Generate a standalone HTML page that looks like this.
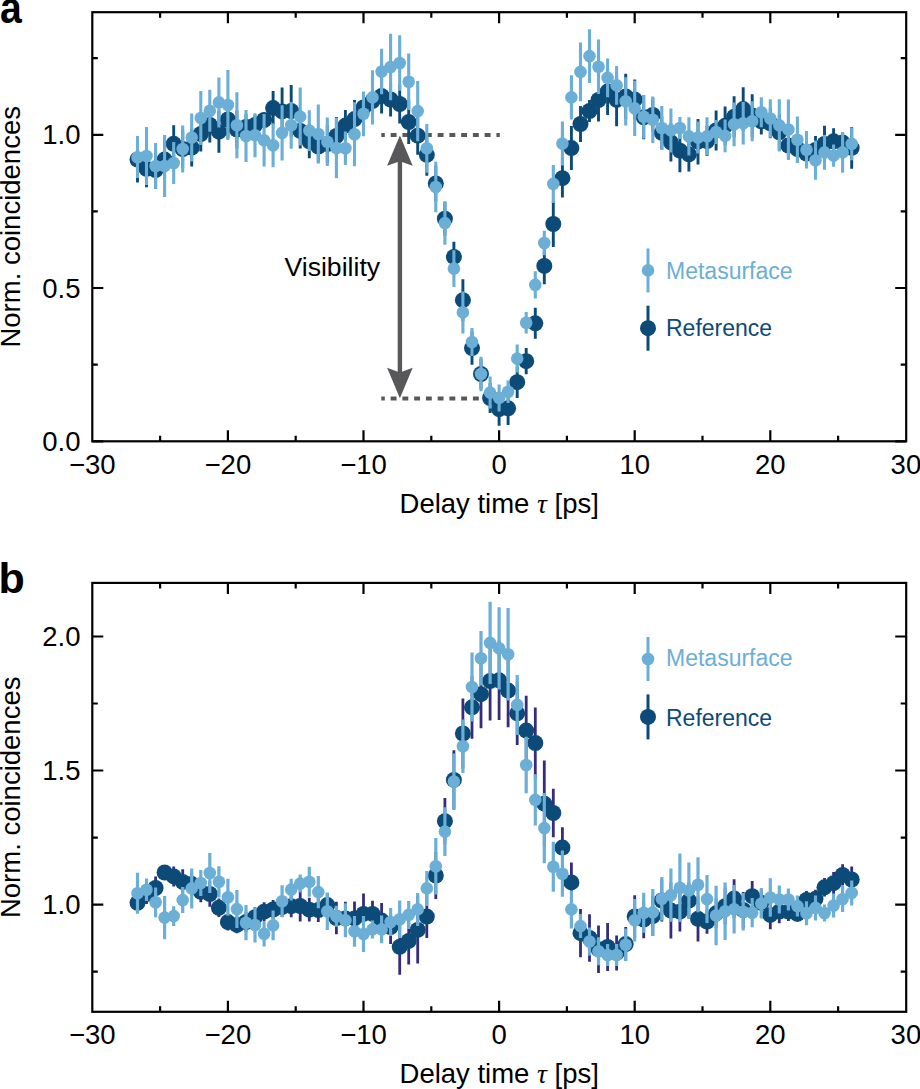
<!DOCTYPE html>
<html><head><meta charset="utf-8"><style>
html,body{margin:0;padding:0;background:#fff;}
svg{display:block;}
</style></head><body>
<svg width="920" height="1089" viewBox="0 0 920 1089">
<text transform="translate(0 23.2) scale(0.9 1)" x="0" y="0" font-family="Liberation Sans, sans-serif" font-weight="bold" font-size="43.5">a</text>
<text x="-1.6" y="593.4" font-family="Liberation Sans, sans-serif" font-weight="bold" font-size="43">b</text>
<rect x="92.3" y="12.2" width="813.9" height="429.1" fill="none" stroke="#000" stroke-width="2.2"/>
<path d="M160.1 441.3v-5.5M160.1 12.2v5.5M227.9 441.3v-11M227.9 12.2v11M295.7 441.3v-5.5M295.7 12.2v5.5M363.5 441.3v-11M363.5 12.2v11M431.3 441.3v-5.5M431.3 12.2v5.5M499.1 441.3v-11M499.1 12.2v11M566.9 441.3v-5.5M566.9 12.2v5.5M634.7 441.3v-11M634.7 12.2v11M702.5 441.3v-5.5M702.5 12.2v5.5M770.3 441.3v-11M770.3 12.2v11M838.1 441.3v-5.5M838.1 12.2v5.5M92.3 441.3h11M906.2 441.3h-11M92.3 288.0h11M906.2 288.0h-11M92.3 134.8h11M906.2 134.8h-11M92.3 364.7h5.5M906.2 364.7h-5.5M92.3 211.4h5.5M906.2 211.4h-5.5M92.3 58.2h5.5M906.2 58.2h-5.5" stroke="#000" stroke-width="2.2" fill="none"/>
<text x="92.3" y="473.7" text-anchor="middle" font-family="Liberation Sans, sans-serif" font-size="27.5">−30</text>
<text x="227.9" y="473.7" text-anchor="middle" font-family="Liberation Sans, sans-serif" font-size="27.5">−20</text>
<text x="363.5" y="473.7" text-anchor="middle" font-family="Liberation Sans, sans-serif" font-size="27.5">−10</text>
<text x="499.1" y="473.7" text-anchor="middle" font-family="Liberation Sans, sans-serif" font-size="27.5">0</text>
<text x="634.7" y="473.7" text-anchor="middle" font-family="Liberation Sans, sans-serif" font-size="27.5">10</text>
<text x="770.3" y="473.7" text-anchor="middle" font-family="Liberation Sans, sans-serif" font-size="27.5">20</text>
<text x="905.9" y="473.7" text-anchor="middle" font-family="Liberation Sans, sans-serif" font-size="27.5">30</text>
<text x="80.5" y="450.9" text-anchor="end" font-family="Liberation Sans, sans-serif" font-size="27.5">0.0</text>
<text x="80.5" y="297.6" text-anchor="end" font-family="Liberation Sans, sans-serif" font-size="27.5">0.5</text>
<text x="80.5" y="144.4" text-anchor="end" font-family="Liberation Sans, sans-serif" font-size="27.5">1.0</text>
<text transform="translate(19.8 226.8) rotate(-90)" text-anchor="middle" font-family="Liberation Sans, sans-serif" font-size="27.5">Norm. coincidences</text>
<text x="499.2" y="512.7" text-anchor="middle" font-family="Liberation Sans, sans-serif" font-size="27.5">Delay time <tspan font-family="Liberation Serif, serif" font-style="italic">τ</tspan> [ps]</text>
<path d="M381.3 135H499.8M381.3 398.5H490" stroke="#58585a" stroke-width="4" stroke-dasharray="5.9 5.85" stroke-dashoffset="2.4" fill="none"/>
<path d="M399.9 160V374" stroke="#58585a" stroke-width="4.4"/>
<path d="M399.9 135.4L412.7 165.8L399.9 161.2L387.1 165.8Z" fill="#58585a"/>
<path d="M399.9 398.2L412.7 367.8L399.9 372.4L387.1 367.8Z" fill="#58585a"/>
<text x="284.5" y="275.6" font-family="Liberation Sans, sans-serif" font-size="26.6">Visibility</text>
<path d="M137.5 136.5V182.5M146.5 150.3V187.3M155.6 151.0V189.0M164.6 140.6V178.6M173.7 125.3V162.3M182.7 130.0V168.0M191.7 128.6V166.6M200.8 116.5V151.5M209.8 107.5V142.5M218.9 110.7V152.7M227.9 100.5V138.5M236.9 110.5V148.5M246.0 114.0V140.0M255.0 115.0V135.0M264.1 113.0V127.0M273.1 91.1V125.1M282.1 87.6V135.2M291.2 85.0V137.0M300.2 113.3V148.5M309.3 124.3V158.3M318.3 130.5V162.5M327.3 125.0V163.0M336.4 117.0V155.0M345.4 110.0V141.2M354.5 100.1V138.1M363.5 92.4V122.4M372.5 82.0V120.0M381.6 78.4V113.6M390.6 82.5V116.5M399.7 84.5V123.5M408.7 100.1V144.1M417.7 116.7V154.7M426.8 133.8V175.8M435.8 165.4V201.4M444.9 201.7V235.7M453.9 241.7V272.1M462.9 279.2V321.2M472.0 331.5V364.7M481.0 359.0V389.0M490.1 383.0V413.0M499.1 392.6V425.8M508.1 391.7V424.9M517.2 366.5V397.9M526.2 348.1V374.3M535.3 307.8V338.8M544.3 247.6V284.2M553.3 201.1V246.9M562.4 158.8V197.6M571.4 126.1V170.1M580.5 106.1V141.9M589.5 100.0V122.0M598.5 78.5V121.5M607.6 68.2V115.0M616.6 73.5V126.3M625.7 73.7V119.1M634.7 79.6V119.6M643.7 95.3V139.3M652.8 98.4V131.4M661.8 116.3V149.3M670.9 123.2V161.4M679.9 129.2V172.2M688.9 137.0V171.6M698.0 119.0V164.4M707.0 126.1V156.1M716.1 110.4V150.4M725.1 106.4V145.2M734.1 96.2V137.4M743.2 87.2V131.0M752.2 94.3V136.9M761.3 108.0V134.6M770.3 108.3V138.3M779.3 114.3V150.3M788.4 131.5V159.5M797.4 135.0V163.0M806.5 139.5V167.5M815.5 136.0V164.0M824.5 125.7V162.1M833.6 128.3V154.3M842.6 132.6V152.6M851.7 126.9V168.7" stroke="#0c4a78" stroke-width="2.9" fill="none"/>
<g fill="#0c4a78"><circle cx="137.5" cy="159.5" r="8"/><circle cx="146.5" cy="168.8" r="8"/><circle cx="155.6" cy="170.0" r="8"/><circle cx="164.6" cy="159.6" r="8"/><circle cx="173.7" cy="143.8" r="8"/><circle cx="182.7" cy="149.0" r="8"/><circle cx="191.7" cy="147.6" r="8"/><circle cx="200.8" cy="134.0" r="8"/><circle cx="209.8" cy="125.0" r="8"/><circle cx="218.9" cy="131.7" r="8"/><circle cx="227.9" cy="119.5" r="8"/><circle cx="236.9" cy="129.5" r="8"/><circle cx="246.0" cy="127.0" r="8"/><circle cx="255.0" cy="125.0" r="8"/><circle cx="264.1" cy="120.0" r="8"/><circle cx="273.1" cy="108.1" r="8"/><circle cx="282.1" cy="111.4" r="8"/><circle cx="291.2" cy="111.0" r="8"/><circle cx="300.2" cy="130.9" r="8"/><circle cx="309.3" cy="141.3" r="8"/><circle cx="318.3" cy="146.5" r="8"/><circle cx="327.3" cy="144.0" r="8"/><circle cx="336.4" cy="136.0" r="8"/><circle cx="345.4" cy="125.6" r="8"/><circle cx="354.5" cy="119.1" r="8"/><circle cx="363.5" cy="107.4" r="8"/><circle cx="372.5" cy="101.0" r="8"/><circle cx="381.6" cy="96.0" r="8"/><circle cx="390.6" cy="99.5" r="8"/><circle cx="399.7" cy="104.0" r="8"/><circle cx="408.7" cy="122.1" r="8"/><circle cx="417.7" cy="135.7" r="8"/><circle cx="426.8" cy="154.8" r="8"/><circle cx="435.8" cy="183.4" r="8"/><circle cx="444.9" cy="218.7" r="8"/><circle cx="453.9" cy="256.9" r="8"/><circle cx="462.9" cy="300.2" r="8"/><circle cx="472.0" cy="348.1" r="8"/><circle cx="481.0" cy="374.0" r="8"/><circle cx="490.1" cy="398.0" r="8"/><circle cx="499.1" cy="409.2" r="8"/><circle cx="508.1" cy="408.3" r="8"/><circle cx="517.2" cy="382.2" r="8"/><circle cx="526.2" cy="361.2" r="8"/><circle cx="535.3" cy="323.3" r="8"/><circle cx="544.3" cy="265.9" r="8"/><circle cx="553.3" cy="224.0" r="8"/><circle cx="562.4" cy="178.2" r="8"/><circle cx="571.4" cy="148.1" r="8"/><circle cx="580.5" cy="124.0" r="8"/><circle cx="589.5" cy="111.0" r="8"/><circle cx="598.5" cy="100.0" r="8"/><circle cx="607.6" cy="91.6" r="8"/><circle cx="616.6" cy="99.9" r="8"/><circle cx="625.7" cy="96.4" r="8"/><circle cx="634.7" cy="99.6" r="8"/><circle cx="643.7" cy="117.3" r="8"/><circle cx="652.8" cy="114.9" r="8"/><circle cx="661.8" cy="132.8" r="8"/><circle cx="670.9" cy="142.3" r="8"/><circle cx="679.9" cy="150.7" r="8"/><circle cx="688.9" cy="154.3" r="8"/><circle cx="698.0" cy="141.7" r="8"/><circle cx="707.0" cy="141.1" r="8"/><circle cx="716.1" cy="130.4" r="8"/><circle cx="725.1" cy="125.8" r="8"/><circle cx="734.1" cy="116.8" r="8"/><circle cx="743.2" cy="109.1" r="8"/><circle cx="752.2" cy="115.6" r="8"/><circle cx="761.3" cy="121.3" r="8"/><circle cx="770.3" cy="123.3" r="8"/><circle cx="779.3" cy="132.3" r="8"/><circle cx="788.4" cy="145.5" r="8"/><circle cx="797.4" cy="149.0" r="8"/><circle cx="806.5" cy="153.5" r="8"/><circle cx="815.5" cy="150.0" r="8"/><circle cx="824.5" cy="143.9" r="8"/><circle cx="833.6" cy="141.3" r="8"/><circle cx="842.6" cy="142.6" r="8"/><circle cx="851.7" cy="147.8" r="8"/></g>
<path d="M137.5 136.8V178.0M146.5 127.0V185.0M155.6 143.0V189.0M164.6 135.0V197.0M173.7 142.0V184.0M182.7 125.4V172.6M191.7 113.5V161.5M200.8 91.0V145.0M209.8 89.7V131.7M218.9 77.4V127.4M227.9 70.0V140.0M236.9 92.2V158.2M246.0 110.0V162.0M255.0 113.2V157.2M264.1 114.1V166.5M273.1 123.3V167.3M282.1 105.2V160.6M291.2 101.9V148.7M300.2 87.6V145.6M309.3 110.3V150.9M318.3 104.5V163.5M327.3 117.6V166.0M336.4 117.8V178.2M345.4 131.4V165.0M354.5 102.2V166.2M363.5 91.4V136.2M372.5 70.2V124.6M381.6 48.7V94.3M390.6 33.7V100.3M399.7 35.3V90.7M408.7 53.6V110.0M417.7 80.9V141.3M426.8 123.9V172.7M435.8 161.7V212.3M444.9 201.4V244.8M453.9 250.3V286.9M462.9 291.4V333.4M472.0 328.0V356.0M481.0 356.7V391.3M490.1 376.6V408.6M499.1 384.4V411.4M508.1 380.5V403.1M517.2 344.6V372.6M526.2 312.1V333.5M535.3 271.2V298.6M544.3 230.8V255.2M553.3 164.9V202.9M562.4 121.6V165.6M571.4 75.2V119.6M580.5 42.6V101.2M589.5 29.2V83.0M598.5 39.5V94.1M607.6 58.6V97.2M616.6 66.0V104.8M625.7 77.2V125.4M634.7 80.7V136.1M643.7 94.9V138.5M652.8 96.4V143.0M661.8 105.9V150.1M670.9 108.4V152.4M679.9 117.0V139.0M688.9 117.3V155.5M698.0 121.6V153.6M707.0 117.3V155.5M716.1 120.0V144.0M725.1 119.5V152.3M734.1 102.4V146.2M743.2 102.1V144.5M752.2 101.3V141.3M761.3 97.3V127.3M770.3 99.2V137.8M779.3 99.2V151.6M788.4 99.4V159.6M797.4 116.6V163.0M806.5 130.9V168.5M815.5 140.6V179.8M824.5 135.1V169.7M833.6 144.5V166.7M842.6 132.1V172.7M851.7 127.6V160.2" stroke="#6baed6" stroke-width="3.1" fill="none"/>
<g fill="#6baed6"><circle cx="137.5" cy="157.4" r="6.3"/><circle cx="146.5" cy="156.0" r="6.3"/><circle cx="155.6" cy="166.0" r="6.3"/><circle cx="164.6" cy="166.0" r="6.3"/><circle cx="173.7" cy="163.0" r="6.3"/><circle cx="182.7" cy="149.0" r="6.3"/><circle cx="191.7" cy="137.5" r="6.3"/><circle cx="200.8" cy="118.0" r="6.3"/><circle cx="209.8" cy="110.7" r="6.3"/><circle cx="218.9" cy="102.4" r="6.3"/><circle cx="227.9" cy="105.0" r="6.3"/><circle cx="236.9" cy="125.2" r="6.3"/><circle cx="246.0" cy="136.0" r="6.3"/><circle cx="255.0" cy="135.2" r="6.3"/><circle cx="264.1" cy="140.3" r="6.3"/><circle cx="273.1" cy="145.3" r="6.3"/><circle cx="282.1" cy="132.9" r="6.3"/><circle cx="291.2" cy="125.3" r="6.3"/><circle cx="300.2" cy="116.6" r="6.3"/><circle cx="309.3" cy="130.6" r="6.3"/><circle cx="318.3" cy="134.0" r="6.3"/><circle cx="327.3" cy="141.8" r="6.3"/><circle cx="336.4" cy="148.0" r="6.3"/><circle cx="345.4" cy="148.2" r="6.3"/><circle cx="354.5" cy="134.2" r="6.3"/><circle cx="363.5" cy="113.8" r="6.3"/><circle cx="372.5" cy="97.4" r="6.3"/><circle cx="381.6" cy="71.5" r="6.3"/><circle cx="390.6" cy="67.0" r="6.3"/><circle cx="399.7" cy="63.0" r="6.3"/><circle cx="408.7" cy="81.8" r="6.3"/><circle cx="417.7" cy="111.1" r="6.3"/><circle cx="426.8" cy="148.3" r="6.3"/><circle cx="435.8" cy="187.0" r="6.3"/><circle cx="444.9" cy="223.1" r="6.3"/><circle cx="453.9" cy="268.6" r="6.3"/><circle cx="462.9" cy="312.4" r="6.3"/><circle cx="472.0" cy="342.0" r="6.3"/><circle cx="481.0" cy="374.0" r="6.3"/><circle cx="490.1" cy="392.6" r="6.3"/><circle cx="499.1" cy="397.9" r="6.3"/><circle cx="508.1" cy="391.8" r="6.3"/><circle cx="517.2" cy="358.6" r="6.3"/><circle cx="526.2" cy="322.8" r="6.3"/><circle cx="535.3" cy="284.9" r="6.3"/><circle cx="544.3" cy="243.0" r="6.3"/><circle cx="553.3" cy="183.9" r="6.3"/><circle cx="562.4" cy="143.6" r="6.3"/><circle cx="571.4" cy="97.4" r="6.3"/><circle cx="580.5" cy="71.9" r="6.3"/><circle cx="589.5" cy="56.1" r="6.3"/><circle cx="598.5" cy="66.8" r="6.3"/><circle cx="607.6" cy="77.9" r="6.3"/><circle cx="616.6" cy="85.4" r="6.3"/><circle cx="625.7" cy="101.3" r="6.3"/><circle cx="634.7" cy="108.4" r="6.3"/><circle cx="643.7" cy="116.7" r="6.3"/><circle cx="652.8" cy="119.7" r="6.3"/><circle cx="661.8" cy="128.0" r="6.3"/><circle cx="670.9" cy="130.4" r="6.3"/><circle cx="679.9" cy="128.0" r="6.3"/><circle cx="688.9" cy="136.4" r="6.3"/><circle cx="698.0" cy="137.6" r="6.3"/><circle cx="707.0" cy="136.4" r="6.3"/><circle cx="716.1" cy="132.0" r="6.3"/><circle cx="725.1" cy="135.9" r="6.3"/><circle cx="734.1" cy="124.3" r="6.3"/><circle cx="743.2" cy="123.3" r="6.3"/><circle cx="752.2" cy="121.3" r="6.3"/><circle cx="761.3" cy="112.3" r="6.3"/><circle cx="770.3" cy="118.5" r="6.3"/><circle cx="779.3" cy="125.4" r="6.3"/><circle cx="788.4" cy="129.5" r="6.3"/><circle cx="797.4" cy="139.8" r="6.3"/><circle cx="806.5" cy="149.7" r="6.3"/><circle cx="815.5" cy="160.2" r="6.3"/><circle cx="824.5" cy="152.4" r="6.3"/><circle cx="833.6" cy="155.6" r="6.3"/><circle cx="842.6" cy="152.4" r="6.3"/><circle cx="851.7" cy="143.9" r="6.3"/></g>
<path d="M648 248.39999999999998V292.4" stroke="#6baed6" stroke-width="3"/>
<circle cx="648" cy="270.4" r="6.3" fill="#6baed6"/>
<path d="M648 305.7V350.7" stroke="#0c4a78" stroke-width="3"/>
<circle cx="648" cy="328.2" r="8" fill="#0c4a78"/>
<text x="666" y="278.7" font-family="Liberation Sans, sans-serif" font-size="23" fill="#6baed6">Metasurface</text>
<text x="666" y="335.8" font-family="Liberation Sans, sans-serif" font-size="23" fill="#0c4a78">Reference</text>
<rect x="92.3" y="582.9" width="813.9" height="428.9" fill="none" stroke="#000" stroke-width="2.2"/>
<path d="M160.1 1011.8v-5.5M160.1 582.9v5.5M227.9 1011.8v-11M227.9 582.9v11M295.7 1011.8v-5.5M295.7 582.9v5.5M363.5 1011.8v-11M363.5 582.9v11M431.3 1011.8v-5.5M431.3 582.9v5.5M499.1 1011.8v-11M499.1 582.9v11M566.9 1011.8v-5.5M566.9 582.9v5.5M634.7 1011.8v-11M634.7 582.9v11M702.5 1011.8v-5.5M702.5 582.9v5.5M770.3 1011.8v-11M770.3 582.9v11M838.1 1011.8v-5.5M838.1 582.9v5.5M92.3 904.6h11M906.2 904.6h-11M92.3 770.5h11M906.2 770.5h-11M92.3 636.5h11M906.2 636.5h-11M92.3 971.6h5.5M906.2 971.6h-5.5M92.3 837.6h5.5M906.2 837.6h-5.5M92.3 703.5h5.5M906.2 703.5h-5.5" stroke="#000" stroke-width="2.2" fill="none"/>
<text x="92.3" y="1044.2" text-anchor="middle" font-family="Liberation Sans, sans-serif" font-size="27.5">−30</text>
<text x="227.9" y="1044.2" text-anchor="middle" font-family="Liberation Sans, sans-serif" font-size="27.5">−20</text>
<text x="363.5" y="1044.2" text-anchor="middle" font-family="Liberation Sans, sans-serif" font-size="27.5">−10</text>
<text x="499.1" y="1044.2" text-anchor="middle" font-family="Liberation Sans, sans-serif" font-size="27.5">0</text>
<text x="634.7" y="1044.2" text-anchor="middle" font-family="Liberation Sans, sans-serif" font-size="27.5">10</text>
<text x="770.3" y="1044.2" text-anchor="middle" font-family="Liberation Sans, sans-serif" font-size="27.5">20</text>
<text x="905.9" y="1044.2" text-anchor="middle" font-family="Liberation Sans, sans-serif" font-size="27.5">30</text>
<text x="80.5" y="914.2" text-anchor="end" font-family="Liberation Sans, sans-serif" font-size="27.5">1.0</text>
<text x="80.5" y="780.1" text-anchor="end" font-family="Liberation Sans, sans-serif" font-size="27.5">1.5</text>
<text x="80.5" y="646.1" text-anchor="end" font-family="Liberation Sans, sans-serif" font-size="27.5">2.0</text>
<text transform="translate(19.8 797.3) rotate(-90)" text-anchor="middle" font-family="Liberation Sans, sans-serif" font-size="27.5">Norm. coincidences</text>
<text x="499.2" y="1083.2" text-anchor="middle" font-family="Liberation Sans, sans-serif" font-size="27.5">Delay time <tspan font-family="Liberation Serif, serif" font-style="italic">τ</tspan> [ps]</text>
<path d="M137.5 892.8V912.8M146.5 884.0V904.0M155.6 876.4V899.6M164.6 865.5V879.5M173.7 866.4V886.4M182.7 869.2V894.6M191.7 873.1V895.1M200.8 881.3V902.3M209.8 881.3V906.7M218.9 898.6V917.0M227.9 913.8V930.4M236.9 916.6V933.2M246.0 912.0V932.0M255.0 907.2V927.2M264.1 902.3V921.1M273.1 900.1V918.9M282.1 897.0V917.0M291.2 895.2V917.2M300.2 890.5V921.5M309.3 897.8V921.6M318.3 898.1V922.1M327.3 893.1V917.1M336.4 901.7V934.3M345.4 901.8V935.0M354.5 901.4V935.4M363.5 893.5V934.3M372.5 900.7V927.1M381.6 902.9V938.3M390.6 910.0V944.0M399.7 918.8V974.8M408.7 917.4V964.4M417.7 896.2V963.6M426.8 895.3V937.9M435.8 852.0V899.0M444.9 798.0V844.4M453.9 750.2V809.6M462.9 698.5V768.5M472.0 675.8V738.8M481.0 660.2V728.2M490.1 641.6V720.4M499.1 640.7V719.9M508.1 653.9V727.3M517.2 681.7V744.9M526.2 695.8V765.4M535.3 707.5V778.5M544.3 760.4V847.0M553.3 788.8V837.2M562.4 827.3V867.9M571.4 862.4V902.4M580.5 909.1V957.3M589.5 914.2V961.8M598.5 925.5V973.1M607.6 922.9V971.1M616.6 935.4V970.4M625.7 927.1V961.1M634.7 895.3V937.7M643.7 900.9V938.3M652.8 896.0V936.0M661.8 879.5V921.5M670.9 882.6V938.6M679.9 891.9V931.5M688.9 882.6V918.6M698.0 896.2V941.4M707.0 909.5V933.7M716.1 898.3V928.3M725.1 888.2V924.2M734.1 879.2V918.0M743.2 892.0V928.0M752.2 880.9V911.5M761.3 888.5V917.1M770.3 900.6V929.2M779.3 900.0V923.2M788.4 902.2V921.0M797.4 906.1V921.5M806.5 891.0V909.0M815.5 889.8V907.8M824.5 878.0V896.6M833.6 871.9V894.5M842.6 864.3V885.5M851.7 866.6V892.4" stroke="#372c7c" stroke-width="2.8" fill="none"/>
<g fill="#0c4a78"><circle cx="137.5" cy="902.8" r="8"/><circle cx="146.5" cy="894.0" r="8"/><circle cx="155.6" cy="888.0" r="8"/><circle cx="164.6" cy="872.5" r="8"/><circle cx="173.7" cy="876.4" r="8"/><circle cx="182.7" cy="881.9" r="8"/><circle cx="191.7" cy="884.1" r="8"/><circle cx="200.8" cy="891.8" r="8"/><circle cx="209.8" cy="894.0" r="8"/><circle cx="218.9" cy="907.8" r="8"/><circle cx="227.9" cy="922.1" r="8"/><circle cx="236.9" cy="924.9" r="8"/><circle cx="246.0" cy="922.0" r="8"/><circle cx="255.0" cy="917.2" r="8"/><circle cx="264.1" cy="911.7" r="8"/><circle cx="273.1" cy="909.5" r="8"/><circle cx="282.1" cy="907.0" r="8"/><circle cx="291.2" cy="906.2" r="8"/><circle cx="300.2" cy="906.0" r="8"/><circle cx="309.3" cy="909.7" r="8"/><circle cx="318.3" cy="910.1" r="8"/><circle cx="327.3" cy="905.1" r="8"/><circle cx="336.4" cy="918.0" r="8"/><circle cx="345.4" cy="918.4" r="8"/><circle cx="354.5" cy="918.4" r="8"/><circle cx="363.5" cy="913.9" r="8"/><circle cx="372.5" cy="913.9" r="8"/><circle cx="381.6" cy="920.6" r="8"/><circle cx="390.6" cy="927.0" r="8"/><circle cx="399.7" cy="946.8" r="8"/><circle cx="408.7" cy="940.9" r="8"/><circle cx="417.7" cy="929.9" r="8"/><circle cx="426.8" cy="916.6" r="8"/><circle cx="435.8" cy="875.5" r="8"/><circle cx="444.9" cy="821.2" r="8"/><circle cx="453.9" cy="779.9" r="8"/><circle cx="462.9" cy="733.5" r="8"/><circle cx="472.0" cy="707.3" r="8"/><circle cx="481.0" cy="694.2" r="8"/><circle cx="490.1" cy="681.0" r="8"/><circle cx="499.1" cy="680.3" r="8"/><circle cx="508.1" cy="690.6" r="8"/><circle cx="517.2" cy="713.3" r="8"/><circle cx="526.2" cy="730.6" r="8"/><circle cx="535.3" cy="743.0" r="8"/><circle cx="544.3" cy="803.7" r="8"/><circle cx="553.3" cy="813.0" r="8"/><circle cx="562.4" cy="847.6" r="8"/><circle cx="571.4" cy="882.4" r="8"/><circle cx="580.5" cy="933.2" r="8"/><circle cx="589.5" cy="938.0" r="8"/><circle cx="598.5" cy="949.3" r="8"/><circle cx="607.6" cy="947.0" r="8"/><circle cx="616.6" cy="952.9" r="8"/><circle cx="625.7" cy="944.1" r="8"/><circle cx="634.7" cy="916.5" r="8"/><circle cx="643.7" cy="919.6" r="8"/><circle cx="652.8" cy="916.0" r="8"/><circle cx="661.8" cy="900.5" r="8"/><circle cx="670.9" cy="910.6" r="8"/><circle cx="679.9" cy="911.7" r="8"/><circle cx="688.9" cy="900.6" r="8"/><circle cx="698.0" cy="918.8" r="8"/><circle cx="707.0" cy="921.6" r="8"/><circle cx="716.1" cy="913.3" r="8"/><circle cx="725.1" cy="906.2" r="8"/><circle cx="734.1" cy="898.6" r="8"/><circle cx="743.2" cy="910.0" r="8"/><circle cx="752.2" cy="896.2" r="8"/><circle cx="761.3" cy="902.8" r="8"/><circle cx="770.3" cy="914.9" r="8"/><circle cx="779.3" cy="911.6" r="8"/><circle cx="788.4" cy="911.6" r="8"/><circle cx="797.4" cy="913.8" r="8"/><circle cx="806.5" cy="900.0" r="8"/><circle cx="815.5" cy="898.8" r="8"/><circle cx="824.5" cy="887.3" r="8"/><circle cx="833.6" cy="883.2" r="8"/><circle cx="842.6" cy="874.9" r="8"/><circle cx="851.7" cy="879.5" r="8"/></g>
<path d="M137.5 872.7V913.7M146.5 878.5V901.1M155.6 887.4V917.2M164.6 896.0V939.2M173.7 906.2V926.0M182.7 887.1V913.1M191.7 868.4V908.4M200.8 870.0V896.0M209.8 853.0V893.0M218.9 866.2V897.4M227.9 878.7V915.7M236.9 890.1V928.1M246.0 905.1V940.3M255.0 907.5V942.5M264.1 921.0V946.4M273.1 910.5V940.3M282.1 885.2V917.2M291.2 878.8V900.4M300.2 874.6V892.6M309.3 866.8V896.8M318.3 876.0V908.2M327.3 892.5V929.9M336.4 905.7V926.7M345.4 903.3V937.3M354.5 915.9V946.7M363.5 916.0V952.0M372.5 920.4V938.4M381.6 915.6V943.2M390.6 908.0V936.0M399.7 900.6V938.0M408.7 900.9V928.9M417.7 892.9V925.9M426.8 870.9V905.9M435.8 837.9V894.5M444.9 807.2V856.0M453.9 753.5V809.5M462.9 719.4V773.0M472.0 652.5V721.5M481.0 631.1V685.5M490.1 601.8V684.0M499.1 607.2V689.4M508.1 607.9V700.5M517.2 674.9V734.9M526.2 736.7V793.3M535.3 774.3V825.5M544.3 792.9V863.3M553.3 841.8V891.8M562.4 850.6V896.8M571.4 890.4V928.4M580.5 914.1V938.1M589.5 927.5V955.5M598.5 937.2V965.2M607.6 944.0V966.0M616.6 944.0V966.0M625.7 928.6V961.0M634.7 899.1V941.5M643.7 892.7V932.7M652.8 888.9V935.9M661.8 877.0V920.6M670.9 868.5V921.7M679.9 853.5V921.9M688.9 862.4V918.6M698.0 857.2V912.2M707.0 875.1V923.1M716.1 885.7V945.3M725.1 882.4V940.0M734.1 884.9V933.5M743.2 893.1V930.5M752.2 898.1V927.3M761.3 888.7V918.5M770.3 878.2V916.8M779.3 885.5V913.5M788.4 888.5V910.5M797.4 895.6V916.6M806.5 901.3V925.3M815.5 895.4V920.4M824.5 904.5V921.5M833.6 893.4V917.6M842.6 886.1V911.9M851.7 880.4V905.4" stroke="#6baed6" stroke-width="3.2" fill="none"/>
<g fill="#6baed6"><circle cx="137.5" cy="893.2" r="6.3"/><circle cx="146.5" cy="889.8" r="6.3"/><circle cx="155.6" cy="902.3" r="6.3"/><circle cx="164.6" cy="917.6" r="6.3"/><circle cx="173.7" cy="916.1" r="6.3"/><circle cx="182.7" cy="900.1" r="6.3"/><circle cx="191.7" cy="888.4" r="6.3"/><circle cx="200.8" cy="883.0" r="6.3"/><circle cx="209.8" cy="873.0" r="6.3"/><circle cx="218.9" cy="881.8" r="6.3"/><circle cx="227.9" cy="897.2" r="6.3"/><circle cx="236.9" cy="909.1" r="6.3"/><circle cx="246.0" cy="922.7" r="6.3"/><circle cx="255.0" cy="925.0" r="6.3"/><circle cx="264.1" cy="933.7" r="6.3"/><circle cx="273.1" cy="925.4" r="6.3"/><circle cx="282.1" cy="901.2" r="6.3"/><circle cx="291.2" cy="889.6" r="6.3"/><circle cx="300.2" cy="883.6" r="6.3"/><circle cx="309.3" cy="881.8" r="6.3"/><circle cx="318.3" cy="892.1" r="6.3"/><circle cx="327.3" cy="911.2" r="6.3"/><circle cx="336.4" cy="916.2" r="6.3"/><circle cx="345.4" cy="920.3" r="6.3"/><circle cx="354.5" cy="931.3" r="6.3"/><circle cx="363.5" cy="934.0" r="6.3"/><circle cx="372.5" cy="929.4" r="6.3"/><circle cx="381.6" cy="929.4" r="6.3"/><circle cx="390.6" cy="922.0" r="6.3"/><circle cx="399.7" cy="919.3" r="6.3"/><circle cx="408.7" cy="914.9" r="6.3"/><circle cx="417.7" cy="909.4" r="6.3"/><circle cx="426.8" cy="888.4" r="6.3"/><circle cx="435.8" cy="866.2" r="6.3"/><circle cx="444.9" cy="831.6" r="6.3"/><circle cx="453.9" cy="781.5" r="6.3"/><circle cx="462.9" cy="746.2" r="6.3"/><circle cx="472.0" cy="687.0" r="6.3"/><circle cx="481.0" cy="658.3" r="6.3"/><circle cx="490.1" cy="642.9" r="6.3"/><circle cx="499.1" cy="648.3" r="6.3"/><circle cx="508.1" cy="654.2" r="6.3"/><circle cx="517.2" cy="704.9" r="6.3"/><circle cx="526.2" cy="765.0" r="6.3"/><circle cx="535.3" cy="799.9" r="6.3"/><circle cx="544.3" cy="828.1" r="6.3"/><circle cx="553.3" cy="866.8" r="6.3"/><circle cx="562.4" cy="873.7" r="6.3"/><circle cx="571.4" cy="909.4" r="6.3"/><circle cx="580.5" cy="926.1" r="6.3"/><circle cx="589.5" cy="941.5" r="6.3"/><circle cx="598.5" cy="951.2" r="6.3"/><circle cx="607.6" cy="955.0" r="6.3"/><circle cx="616.6" cy="955.0" r="6.3"/><circle cx="625.7" cy="944.8" r="6.3"/><circle cx="634.7" cy="920.3" r="6.3"/><circle cx="643.7" cy="912.7" r="6.3"/><circle cx="652.8" cy="912.4" r="6.3"/><circle cx="661.8" cy="898.8" r="6.3"/><circle cx="670.9" cy="895.1" r="6.3"/><circle cx="679.9" cy="887.7" r="6.3"/><circle cx="688.9" cy="890.5" r="6.3"/><circle cx="698.0" cy="884.7" r="6.3"/><circle cx="707.0" cy="899.1" r="6.3"/><circle cx="716.1" cy="915.5" r="6.3"/><circle cx="725.1" cy="911.2" r="6.3"/><circle cx="734.1" cy="909.2" r="6.3"/><circle cx="743.2" cy="911.8" r="6.3"/><circle cx="752.2" cy="912.7" r="6.3"/><circle cx="761.3" cy="903.6" r="6.3"/><circle cx="770.3" cy="897.5" r="6.3"/><circle cx="779.3" cy="899.5" r="6.3"/><circle cx="788.4" cy="899.5" r="6.3"/><circle cx="797.4" cy="906.1" r="6.3"/><circle cx="806.5" cy="913.3" r="6.3"/><circle cx="815.5" cy="907.9" r="6.3"/><circle cx="824.5" cy="913.0" r="6.3"/><circle cx="833.6" cy="905.5" r="6.3"/><circle cx="842.6" cy="899.0" r="6.3"/><circle cx="851.7" cy="892.9" r="6.3"/></g>
<path d="M648 637.0V681.0" stroke="#6baed6" stroke-width="3"/>
<circle cx="648" cy="659.0" r="6.3" fill="#6baed6"/>
<path d="M648 694.4V739.4" stroke="#0c4a78" stroke-width="3"/>
<circle cx="648" cy="716.9" r="8" fill="#0c4a78"/>
<text x="666" y="666.4" font-family="Liberation Sans, sans-serif" font-size="23" fill="#6baed6">Metasurface</text>
<text x="666" y="725.7" font-family="Liberation Sans, sans-serif" font-size="23" fill="#0c4a78">Reference</text>
</svg>
</body></html>
